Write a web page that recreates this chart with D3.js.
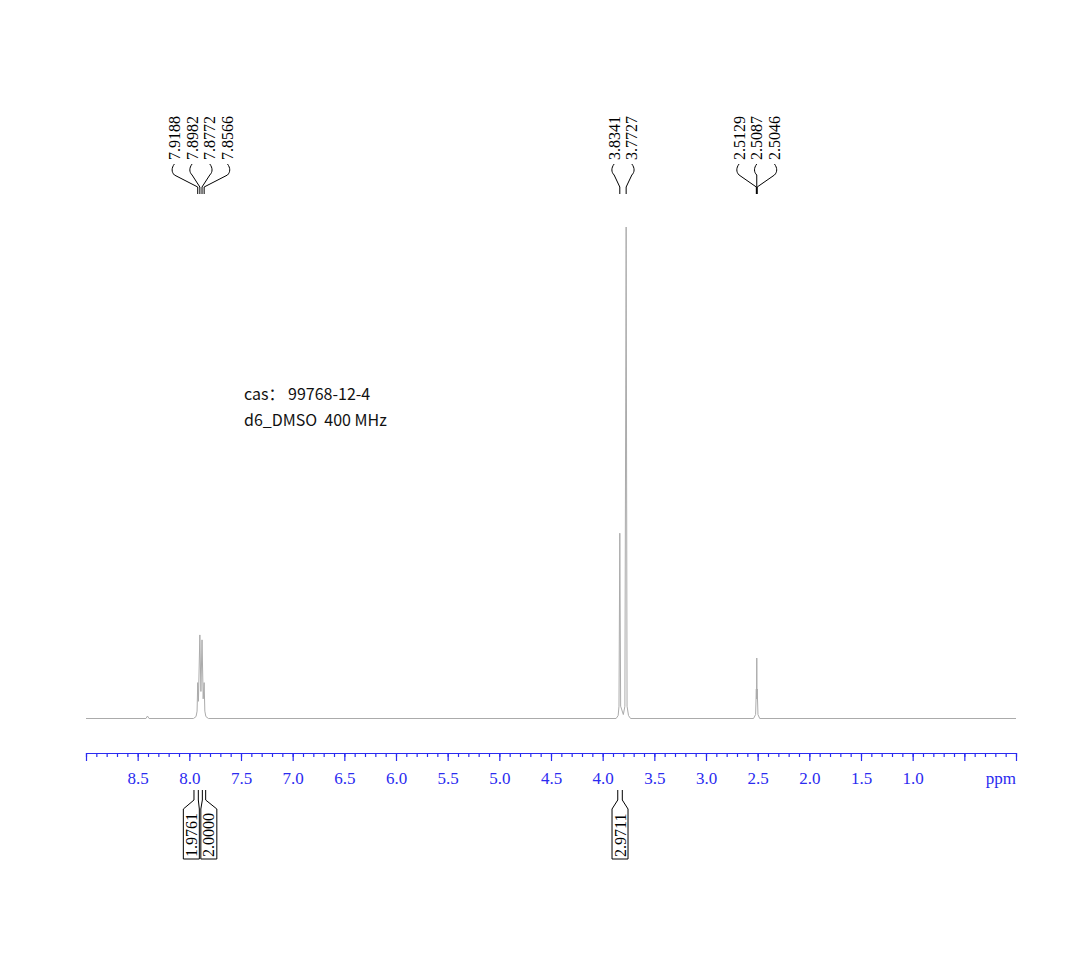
<!DOCTYPE html>
<html>
<head>
<meta charset="utf-8">
<script src="https://cdn.jsdelivr.net/npm/d3@7"></script>
<style>
  html, body { margin: 0; padding: 0; background: #ffffff; }
  svg { display: block; }
</style>
</head>
<body>
<svg id="chart" width="1091" height="953"></svg>
<script>
// ---------------- data ----------------
// spectrum trace: [ppm, relative intensity]
const spectrum = [
  [9.00, 0], [8.42, 0], [8.405, 0.5], [8.39, 0],
  [7.96, 0], [7.935, 0.4], [7.925, 1.5], [7.9188, 7.3], [7.912, 3.5],
  [7.8982, 17.0], [7.888, 5.5], [7.8772, 16.0], [7.866, 4.0],
  [7.8566, 7.3], [7.850, 1.5], [7.84, 0.4], [7.815, 0],
  [3.87, 0], [3.85, 0.6], [3.842, 2.5], [3.8341, 37.7], [3.826, 2.5],
  [3.80, 0.8], [3.785, 2.5], [3.7727, 100], [3.764, 2.5], [3.75, 0.6], [3.73, 0],
  [2.54, 0], [2.52, 0.8], [2.5129, 6.0], [2.5108, 4.0], [2.5087, 12.3],
  [2.5066, 4.0], [2.5046, 6.0], [2.497, 0.8], [2.48, 0],
  [0.00, 0]
];
// peak-pick groups (ppm values printed on top)
const peakGroup1 = [7.9188, 7.8982, 7.8772, 7.8566];
const peakGroup2 = [3.8341, 3.7727];
const peakGroup3 = [2.5129, 2.5087, 2.5046];
// integrals: ranges in ppm and printed values
const integralFrom   = [7.955, 7.874, 3.854];
const integralTo     = [7.913, 7.842, 3.810];
const integralValues = ["1.9761", "2.0000", "2.9711"];
const integralGroups = [0, 0, 1];
// axis
const majorTicks = [9.0, 8.5, 8.0, 7.5, 7.0, 6.5, 6.0, 5.5, 5.0, 4.5, 4.0, 3.5, 3.0, 2.5, 2.0, 1.5, 1.0, 0.5, 0.0];
const tickLabels = ["8.5", "8.0", "7.5", "7.0", "6.5", "6.0", "5.5", "5.0", "4.5", "4.0", "3.5", "3.0", "2.5", "2.0", "1.5", "1.0"];
const unitLabel = "ppm";
const infoLines = ["cas： 99768-12-4", "d6_DMSO  400 MHz"];

// ---------------- layout ----------------
const svg = d3.select("#chart");
const W = 1091, H = 953;
svg.append("rect").attr("width", W).attr("height", H).attr("fill", "#fff");

const x = d3.scaleLinear().domain([9.0, 0.0]).range([86, 1016]);
const y = d3.scaleLinear().domain([0, 100]).range([718.5, 227]);

const serif = "'Liberation Serif', 'Times New Roman', serif";
const blue = "#2b2bf0";

// spectrum line
svg.append("path")
  .datum(spectrum)
  .attr("fill", "none")
  .attr("stroke", "#ababab")
  .attr("stroke-width", 1)
  .attr("d", d3.line().x(d => x(d[0])).y(d => y(d[1])));

// axis
const axisY = 753;
const minorTicks = d3.range(0, 91).map(i => i / 10);
svg.append("g")
  .attr("transform", `translate(0,${axisY})`)
  .call(d3.axisBottom(x).tickValues(minorTicks).tickSize(4).tickSizeOuter(0).tickFormat(""))
  .call(g => g.selectAll("line,path").attr("stroke", blue).attr("stroke-width", 1.2));
svg.append("g")
  .attr("transform", `translate(0,${axisY})`)
  .call(d3.axisBottom(x).tickValues(majorTicks).tickSize(8).tickSizeOuter(0).tickPadding(11)
        .tickFormat(d => { const s = d.toFixed(1); return tickLabels.includes(s) ? s : ""; }))
  .call(g => g.select(".domain").attr("stroke", blue).attr("stroke-width", 1.2))
  .call(g => g.selectAll("line").attr("stroke", blue).attr("stroke-width", 1.2))
  .call(g => g.selectAll("text").attr("fill", blue).attr("font-family", serif).attr("font-size", 17));
svg.append("text")
  .attr("x", x(0)).attr("y", 784)
  .attr("text-anchor", "end")
  .attr("font-family", serif).attr("font-size", 17).attr("fill", blue)
  .text(unitLabel);

// peak labels
const labelSpacing = 17.7;
function drawPeakGroup(ppms) {
  const px = ppms.map(p => x(p));
  const mid = d3.mean(px);
  const n = ppms.length;
  ppms.forEach((p, i) => {
    const lx = mid + (i - (n - 1) / 2) * labelSpacing;
    const pk = px[i];
    const dir = Math.sign(lx - pk);
    svg.append("text")
      .attr("transform", `translate(${lx},160) rotate(-90)`)
      .attr("dy", "0.35em")
      .attr("font-family", serif).attr("font-size", 16).attr("fill", "#000")
      .text(p.toFixed(4));
    svg.append("path")
      .attr("fill", "none").attr("stroke", "#000").attr("stroke-width", 1)
      .attr("d", `M${lx},164 C${lx + dir * 3},168 ${lx + dir * 3},172 ${lx},175 L${pk},187 L${pk},194`);
  });
}
drawPeakGroup(peakGroup1);
drawPeakGroup(peakGroup2);
drawPeakGroup(peakGroup3);

// integrals
const boxW = 16, intSpacing = 17.5;
[0, 1].forEach(g => {
  const idx = integralGroups.map((v, i) => v === g ? i : -1).filter(i => i >= 0);
  const centers = idx.map(i => (x(integralFrom[i]) + x(integralTo[i])) / 2);
  const mid = d3.mean(centers);
  idx.forEach((i, k) => {
    const cx = mid + (k - (idx.length - 1) / 2) * intSpacing;
    const x1 = x(integralFrom[i]), x2 = x(integralTo[i]);
    const b1 = cx - boxW / 2, b2 = cx + boxW / 2;
    svg.append("path")
      .attr("fill", "none").attr("stroke", "#000").attr("stroke-width", 1)
      .attr("d", `M${x1},790 L${x1},800 L${b1},809 L${b1},859 L${b2},859 L${b2},809 L${x2},800 L${x2},790`);
    svg.append("text")
      .attr("transform", `translate(${cx},857) rotate(-90)`)
      .attr("dy", "0.35em")
      .attr("font-family", serif).attr("font-size", 16).attr("fill", "#000")
      .text(integralValues[i]);
  });
});

// info text
infoLines.forEach((t, i) => {
  svg.append("text")
    .attr("x", 244).attr("y", 400 + i * 25.5)
    .attr("font-family", "'Noto Sans CJK SC', 'Noto Sans', sans-serif")
    .attr("font-size", 16).attr("fill", "#111")
    .attr("xml:space", "preserve").style("white-space", "pre")
    .text(t);
});
</script>
</body>
</html>
